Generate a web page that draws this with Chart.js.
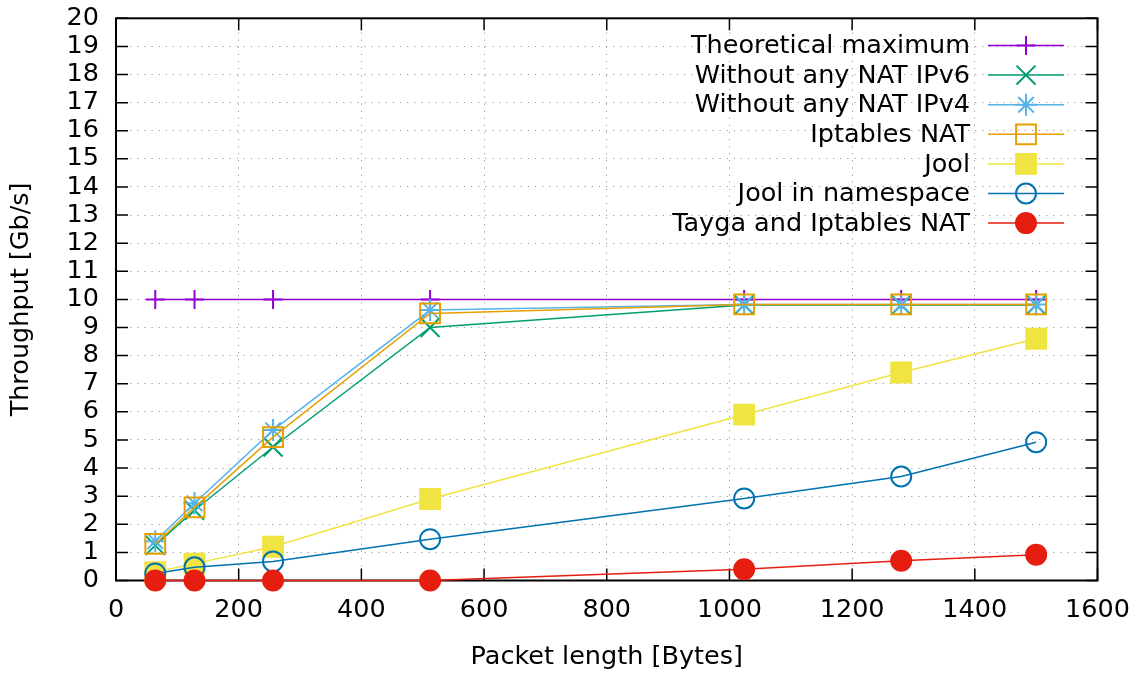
<!DOCTYPE html>
<html><head><meta charset="utf-8">
<script src="https://cdn.jsdelivr.net/npm/chart.js@4.4.0/dist/chart.umd.min.js"></script>
<style>html,body{margin:0;padding:0;background:#fff;}#wrap{width:1145px;height:675px;}</style>
</head><body><div id="wrap"><canvas id="c" width="1145" height="675"></canvas></div>
<script>
const packetLengths = [64, 128, 256, 512, 1024, 1280, 1500];
const theoreticalMax = [10, 10, 10, 10, 10, 10, 10];
const noNatIPv6 = [1.25, 2.5, 4.75, 9.0, 9.8, 9.8, 9.8];
const noNatIPv4 = [1.4, 2.75, 5.35, 9.62, 9.82, 9.82, 9.82];
const iptablesNat = [1.3, 2.6, 5.1, 9.5, 9.82, 9.82, 9.82];
const jool = [0.3, 0.6, 1.2, 2.9, 5.9, 7.4, 8.6];
const joolNamespace = [0.25, 0.47, 0.68, 1.47, 2.92, 3.7, 4.92];
const taygaIptables = [0, 0, 0, 0, 0.4, 0.7, 0.92];
const seriesLabels = ["Theoretical maximum", "Without any NAT IPv6", "Without any NAT IPv4", "Iptables NAT", "Jool", "Jool in namespace", "Tayga and Iptables NAT"];
const xTickValues = [0, 200, 400, 600, 800, 1000, 1200, 1400, 1600];
const yTickValues = [0,1,2,3,4,5,6,7,8,9,10,11,12,13,14,15,16,17,18,19,20];
const xTitle = "Packet length [Bytes]";
const yTitle = "Throughput [Gb/s]";

const FONT = "'DejaVu Sans', sans-serif";
const FS = 25.5;
const styles = [
  {color: '#9400d3', pointStyle: 'cross', radius: 9.5, fill: false},
  {color: '#009e73', pointStyle: 'crossRot', radius: 13.4, fill: false},
  {color: '#56b4e9', pointStyle: 'star', radius: 11, fill: false},
  {color: '#e69f00', pointStyle: 'rect', radius: 14, fill: false},
  {color: '#f0e442', pointStyle: 'rect', radius: 14, fill: true},
  {color: '#0072b2', pointStyle: 'circle', radius: 10, fill: false},
  {color: '#e51e10', pointStyle: 'circle', radius: 10, fill: true}
];
const seriesValues = [theoreticalMax, noNatIPv6, noNatIPv4, iptablesNat, jool, joolNamespace, taygaIptables];

const datasets = seriesValues.map((vals, i) => {
  const s = styles[i];
  return {
    label: seriesLabels[i],
    data: packetLengths.map((x, k) => ({x: x, y: vals[k]})),
    borderColor: s.color,
    backgroundColor: s.color,
    borderWidth: 1.5,
    pointStyle: s.pointStyle,
    pointRadius: s.radius,
    pointBorderWidth: 2,
    pointBorderColor: s.color,
    pointBackgroundColor: s.fill ? s.color : 'rgba(0,0,0,0)',
    pointHoverRadius: s.radius,
    tension: 0,
    clip: false,
    order: 7 - i
  };
});

function drawMarker(ctx, s, x, y) {
  ctx.save();
  ctx.strokeStyle = s.color; ctx.fillStyle = s.color; ctx.lineWidth = 2;
  ctx.beginPath();
  if (s.pointStyle === 'cross') {
    const r = s.radius;
    ctx.moveTo(x - r, y); ctx.lineTo(x + r, y); ctx.moveTo(x, y - r); ctx.lineTo(x, y + r); ctx.stroke();
  } else if (s.pointStyle === 'crossRot') {
    const r = s.radius * Math.SQRT1_2;
    ctx.moveTo(x - r, y - r); ctx.lineTo(x + r, y + r); ctx.moveTo(x + r, y - r); ctx.lineTo(x - r, y + r); ctx.stroke();
  } else if (s.pointStyle === 'star') {
    const r = s.radius, d = s.radius * Math.SQRT1_2;
    ctx.moveTo(x - r, y); ctx.lineTo(x + r, y); ctx.moveTo(x, y - r); ctx.lineTo(x, y + r);
    ctx.moveTo(x - d, y - d); ctx.lineTo(x + d, y + d); ctx.moveTo(x + d, y - d); ctx.lineTo(x - d, y + d); ctx.stroke();
  } else if (s.pointStyle === 'rect') {
    const h = s.radius * Math.SQRT1_2;
    ctx.rect(x - h, y - h, 2 * h, 2 * h);
    if (s.fill) ctx.fill();
    ctx.stroke();
  } else {
    ctx.arc(x, y, s.radius, 0, Math.PI * 2);
    if (s.fill) ctx.fill();
    ctx.stroke();
  }
  ctx.restore();
}

const framePlugin = {
  id: 'frame',
  beforeDatasetsDraw(chart) {
    const {ctx, chartArea: a, scales} = chart;
    ctx.save();
    ctx.strokeStyle = '#000';
    ctx.lineWidth = 1.5;
    ctx.beginPath();
    const tl = 12;
    xTickValues.forEach(v => {
      const px = scales.x.getPixelForValue(v);
      ctx.moveTo(px, a.bottom); ctx.lineTo(px, a.bottom - tl);
      ctx.moveTo(px, a.top); ctx.lineTo(px, a.top + tl);
    });
    yTickValues.forEach(v => {
      const py = scales.y.getPixelForValue(v);
      ctx.moveTo(a.left, py); ctx.lineTo(a.left + tl, py);
      ctx.moveTo(a.right, py); ctx.lineTo(a.right - tl, py);
    });
    ctx.stroke();
    ctx.lineWidth = 2;
    ctx.strokeRect(a.left, a.top, a.right - a.left, a.bottom - a.top);
    ctx.restore();
  }
};

const legendPlugin = {
  id: 'gpLegend',
  afterDatasetsDraw(chart) {
    const {ctx} = chart;
    ctx.save();
    ctx.font = FS + "px " + FONT;
    ctx.textAlign = 'right';
    ctx.textBaseline = 'middle';
    seriesLabels.forEach((lab, i) => {
      const y = 45.5 + i * 29.6;
      const s = styles[i];
      ctx.fillStyle = '#000';
      ctx.fillText(lab, 970, y + 1);
      ctx.strokeStyle = s.color; ctx.lineWidth = 1.5;
      ctx.beginPath(); ctx.moveTo(988, y); ctx.lineTo(1064, y); ctx.stroke();
      drawMarker(ctx, s, 1026, y);
    });
    ctx.restore();
  }
};

new Chart(document.getElementById('c'), {
  type: 'line',
  data: {datasets: datasets},
  options: {
    responsive: false,
    animation: false,
    devicePixelRatio: 1,
    events: [],
    layout: {padding: {left: 0, right: 47.5, top: 18.3, bottom: 0}},
    plugins: {legend: {display: false}, tooltip: {enabled: false}, title: {display: false}},
    scales: {
      x: {
        type: 'linear', min: 0, max: 1600,
        afterBuildTicks: s => { s.ticks = xTickValues.map(v => ({value: v})); },
        afterFit: s => { s.height = 94.5; s.paddingLeft = 0; s.paddingRight = 0; s.paddingTop = 0; s.paddingBottom = 0; },
        ticks: {color: '#000', font: {family: FONT, size: FS}, padding: 15, maxRotation: 0, autoSkip: false, callback: v => String(v)},
        grid: {color: '#9a9a9a', lineWidth: 1, drawTicks: false},
        border: {display: false, dash: [1.2, 5.9]},
        title: {display: true, text: xTitle, color: '#000', font: {family: FONT, size: FS}, padding: {top: 0, bottom: 2}}
      },
      y: {
        type: 'linear', min: 0, max: 20,
        afterBuildTicks: s => { s.ticks = yTickValues.map(v => ({value: v})); },
        afterFit: s => { s.width = 116; s.paddingTop = 0; s.paddingBottom = 0; s.paddingLeft = 0; s.paddingRight = 0; },
        ticks: {color: '#000', font: {family: FONT, size: FS}, padding: 17, autoSkip: false, callback: v => String(v)},
        grid: {color: '#9a9a9a', lineWidth: 1, drawTicks: false},
        border: {display: false, dash: [1.2, 5.9]},
        title: {display: true, text: yTitle, color: '#000', font: {family: FONT, size: FS}, padding: {top: 6, bottom: 0}}
      }
    }
  },
  plugins: [framePlugin, legendPlugin]
});
</script>
</body></html>
